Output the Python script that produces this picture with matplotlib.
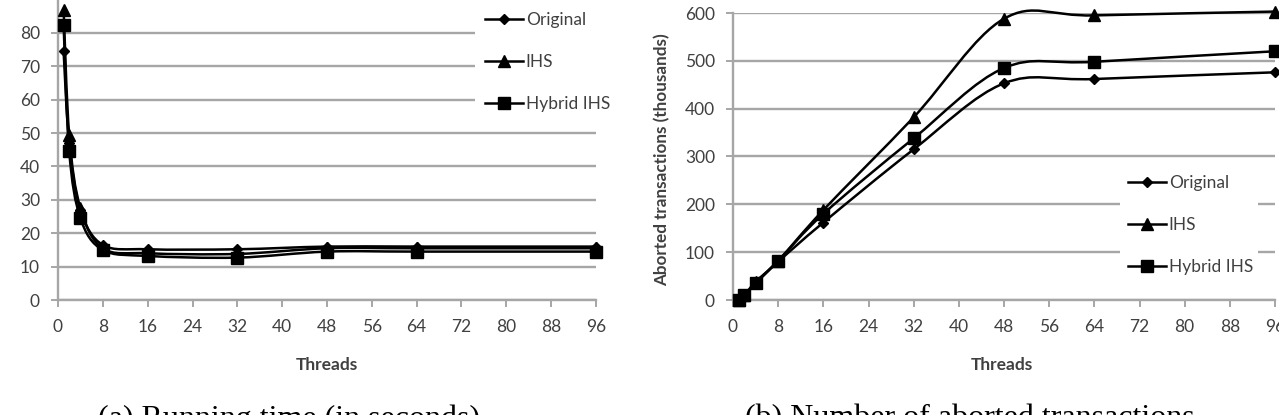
import numpy as np
import matplotlib
matplotlib.use('Agg')
import matplotlib.pyplot as plt
from matplotlib.path import Path
from matplotlib.patches import PathPatch, Rectangle
from matplotlib.lines import Line2D

# data
threads = [1, 2, 4, 8, 16, 32, 48, 64, 96]
series_names = ['Original', 'IHS', 'Hybrid IHS']
markers = ['D', '^', 's']
marker_sizes = [5.5, 8, 8]

time_original = [74.5, 47, 27, 16.5, 15.2, 15.2, 16, 16, 16]
time_ihs = [87, 49.5, 27.5, 15.5, 14, 13.8, 15.5, 15.5, 15.5]
time_hybrid = [82.5, 44.5, 24.5, 15, 13.2, 12.7, 14.5, 14.5, 14.5]

aborts_original = [0, 8, 35, 80, 162, 315, 453, 462, 476]
aborts_ihs = [0, 10, 38, 82, 188, 382, 588, 595, 603]
aborts_hybrid = [0, 10, 35, 82, 180, 338, 485, 498, 520]

x_ticks = list(range(0, 97, 8))
time_ticks = list(range(0, 81, 10))
abort_ticks = list(range(0, 601, 100))

W, H = 1279, 415
GRID = '#a6a6a6'
TXT = '#404040'
FONT = 'Lato'
FS = 12.5


def smooth_path(xs, ys):
    # Excel-style smoothed line: bezier segments through the points
    pts = np.column_stack([xs, ys]).astype(float)
    n = len(pts)
    verts = [pts[0]]
    codes = [Path.MOVETO]
    for i in range(n - 1):
        p0 = pts[max(i - 1, 0)]
        p1 = pts[i]
        p2 = pts[i + 1]
        p3 = pts[min(i + 2, n - 1)]
        verts += [p1 + (p2 - p0) / 6, p2 - (p3 - p1) / 6, p2]
        codes += [Path.CURVE4] * 3
    return Path(verts, codes)


def px_box(x0, y0, x1, y1):
    return [x0 / W, 1 - y1 / H, (x1 - x0) / W, (y1 - y0) / H]


def style_axes(ax):
    ax.set_axisbelow(True)
    ax.grid(axis='y', color=GRID, lw=1.7)
    for s in ['top', 'right']:
        ax.spines[s].set_visible(False)
    for s in ['left', 'bottom']:
        ax.spines[s].set_color(GRID)
        ax.spines[s].set_linewidth(1.7)
    ax.tick_params(axis='both', colors=GRID, labelcolor=TXT, labelsize=FS,
                   length=5, width=1.4, direction='out')
    ax.tick_params(axis='x', pad=9)
    ax.tick_params(axis='y', pad=8)


def draw_series(ax, all_values):
    for vals, m, ms in zip(all_values, markers, marker_sizes):
        ax.add_patch(PathPatch(smooth_path(threads, vals), fill=False,
                               edgecolor='black', lw=1.8, zorder=3,
                               clip_on=False))
        ax.plot(threads, vals, ls='none', marker=m, ms=ms, color='black',
                zorder=4, clip_on=False)


def add_legend(fig, x_px, y_px, mask):
    fig.add_artist(Rectangle((mask[0] / W, 1 - mask[3] / H),
                             (mask[2] - mask[0]) / W, (mask[3] - mask[1]) / H,
                             transform=fig.transFigure, facecolor='white',
                             edgecolor='none', zorder=1))
    handles = [Line2D([0], [0], color='black', lw=1.8, marker=m, ms=ms)
               for m, ms in zip(markers, marker_sizes)]
    leg = fig.legend(handles, series_names, loc='upper left',
                     bbox_to_anchor=(x_px / W, 1 - y_px / H),
                     frameon=False, handlelength=2.2, handletextpad=0.15,
                     labelspacing=1.5, borderpad=0, borderaxespad=0,
                     prop={'family': FONT, 'size': FS})
    for t in leg.get_texts():
        t.set_color(TXT)
    leg.set_zorder(5)


def finish_ticks(ax):
    for lab in ax.get_xticklabels() + ax.get_yticklabels():
        lab.set_fontfamily(FONT)


fig = plt.figure(figsize=(W / 100, H / 100), dpi=100)

# (a) running time
ax1 = fig.add_axes(px_box(58, -0.4, 596, 300))
style_axes(ax1)
draw_series(ax1, [time_original, time_ihs, time_hybrid])
ax1.set_xlim(0, 96)
ax1.set_ylim(0, 90)
ax1.set_xticks(x_ticks)
ax1.set_yticks(time_ticks)
finish_ticks(ax1)
ax1.set_xlabel('Threads', fontfamily=FONT, fontweight='bold', fontsize=FS,
               color=TXT)
ax1.xaxis.set_label_coords(0.5, -0.19)
add_legend(fig, 485, 12, (475, 0, 640, 118))

# (b) aborted transactions
ax2 = fig.add_axes(px_box(733, 13, 1275, 300))
style_axes(ax2)
draw_series(ax2, [aborts_original, aborts_ihs, aborts_hybrid])
ax2.set_xlim(0, 96)
ax2.set_ylim(0, 600)
ax2.set_xticks(x_ticks)
ax2.set_yticks(abort_ticks)
finish_ticks(ax2)
ax2.set_xlabel('Threads', fontfamily=FONT, fontweight='bold', fontsize=FS,
               color=TXT)
ax2.xaxis.set_label_coords(0.496, -0.197)
ax2.set_ylabel('Aborted transactions (thousands)', fontfamily=FONT,
               fontweight='bold', fontsize=12.3, color=TXT)
ax2.yaxis.set_label_coords(-0.115, 0.49)
add_legend(fig, 1128, 175, (1120, 168, 1258, 284))

# captions (cut off by the bottom edge as in the source)
fig.text(289 / W, 1 - 404 / H, '(a) Running time (in seconds)',
         family='Liberation Serif', fontsize=23, ha='center', va='top')
fig.text(970 / W, 1 - 404 / H, '(b) Number of aborted transactions',
         family='Liberation Serif', fontsize=23, ha='center', va='top')

fig.savefig('out.png', dpi=100)
